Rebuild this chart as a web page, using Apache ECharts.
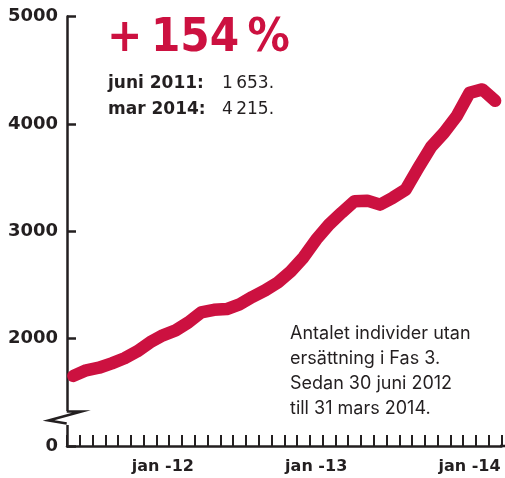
<!DOCTYPE html>
<html>
<head>
<meta charset="utf-8">
<script src="https://cdn.jsdelivr.net/npm/echarts@6/dist/echarts.min.js"></script>
<style>
html,body{margin:0;padding:0;background:#fff;}
#c{width:505px;height:478px;}
</style>
</head>
<body>
<div id="c"></div>
<script>
// Months from juni 2011 to mars 2014
var months = ['jun -11','jul -11','aug -11','sep -11','okt -11','nov -11','dec -11',
  'jan -12','feb -12','mar -12','apr -12','maj -12','jun -12','jul -12','aug -12','sep -12','okt -12','nov -12','dec -12',
  'jan -13','feb -13','mar -13','apr -13','maj -13','jun -13','jul -13','aug -13','sep -13','okt -13','nov -13','dec -13',
  'jan -14','feb -14','mar -14'];
// Antal individer utan ersättning i Fas 3
var values = [1653, 1705, 1729, 1770, 1817, 1882, 1966,
  2031, 2077, 2151, 2244, 2268, 2275, 2319, 2388, 2449, 2523, 2625, 2756,
  2923, 3062, 3174, 3280, 3285, 3248, 3313, 3388, 3592, 3787, 3917, 4074,
  4289, 4321, 4215];
var yTickValues = [1000, 2000, 3000, 4000, 5000];
var yTickLabels = ['0', '2000', '3000', '4000', '5000'];
var headline = '+\u2009154\u2009%';
var statLabels = ['juni 2011:', 'mar 2014:'];
var statValues = ['1\u2009653.', '4\u2009215.'];
var noteLines = ['Antalet individer utan', 'ersättning i Fas 3.', 'Sedan 30 juni 2012', 'till 31 mars 2014.'];

var RED = '#cc1140';
var DARK = '#231f20';

var chart = echarts.init(document.getElementById('c'), null, {renderer: 'canvas'});
var option = {
  animation: false,
  backgroundColor: '#fff',
  grid: {left: 67, right: 3.5, top: 16.5, bottom: 32, containLabel: false},
  xAxis: {
    type: 'category',
    data: months,
    boundaryGap: true,
    axisLine: {show: true, lineStyle: {color: DARK, width: 2.5}},
    axisTick: {show: true, inside: true, length: 11, interval: 0, lineStyle: {color: DARK, width: 2}},
    axisLabel: {
      interval: function (i, v) { return v.indexOf('jan') === 0; },
      margin: 13,
      color: DARK,
      fontFamily: 'DejaVu Sans',
      fontWeight: 'bold',
      fontSize: 16
    },
    splitLine: {show: false}
  },
  yAxis: {
    type: 'value',
    min: 1000,
    max: 5000,
    interval: 1000,
    axisLine: {show: true, lineStyle: {color: DARK, width: 2.5}},
    axisTick: {show: true, inside: true, length: 9, lineStyle: {color: DARK, width: 2.5}},
    axisLabel: {
      margin: 9,
      color: DARK,
      fontFamily: 'DejaVu Sans',
      fontWeight: 'bold',
      fontSize: 18,
      formatter: function (v) {
        var i = yTickValues.indexOf(v);
        return i >= 0 ? yTickLabels[i] : '';
      }
    },
    splitLine: {show: false}
  },
  series: [{
    type: 'line',
    data: values,
    showSymbol: false,
    symbol: 'none',
    smooth: false,
    lineStyle: {color: RED, width: 12.5, cap: 'round', join: 'round'},
    z: 3
  }],
  graphic: []
};
chart.setOption(option);

var g = [];
// axis break
g.push({type: 'rect', shape: {x: 60, y: 411, width: 14, height: 14}, style: {fill: '#fff'}, z: 100});
g.push({type: 'polyline', shape: {points: [[66.7, 411.5], [81.5, 411.5], [48.5, 420.5], [66.7, 423.5]]},
  style: {stroke: DARK, lineWidth: 2.5, fill: null, lineJoin: 'miter'}, z: 101});
// extend x axis line to the edge
g.push({type: 'line', shape: {x1: 500, y1: 446, x2: 505, y2: 446}, style: {stroke: DARK, lineWidth: 2.5}, z: 101});
// headline
g.push({type: 'text', x: 107, y: 39, style: {text: headline, fill: RED, font: 'bold 47px "DejaVu Sans Condensed", "DejaVu Sans"', textVerticalAlign: 'middle'}, z: 110});
for (var i = 0; i < statLabels.length; i++) {
  g.push({type: 'text', x: 108, y: 84 + i * 25.5, style: {text: statLabels[i], fill: DARK, font: 'bold 17px "DejaVu Sans"', textVerticalAlign: 'middle'}, z: 110});
  g.push({type: 'text', x: 222, y: 84 + i * 25.5, style: {text: statValues[i], fill: DARK, font: '17px "DejaVu Sans"', textVerticalAlign: 'middle'}, z: 110});
}
for (var j = 0; j < noteLines.length; j++) {
  g.push({type: 'text', x: 290, y: 334 + j * 25, style: {text: noteLines[j], fill: DARK, font: '18px Inter', textVerticalAlign: 'middle'}, z: 110});
}
chart.setOption({graphic: g});
</script>
</body>
</html>
